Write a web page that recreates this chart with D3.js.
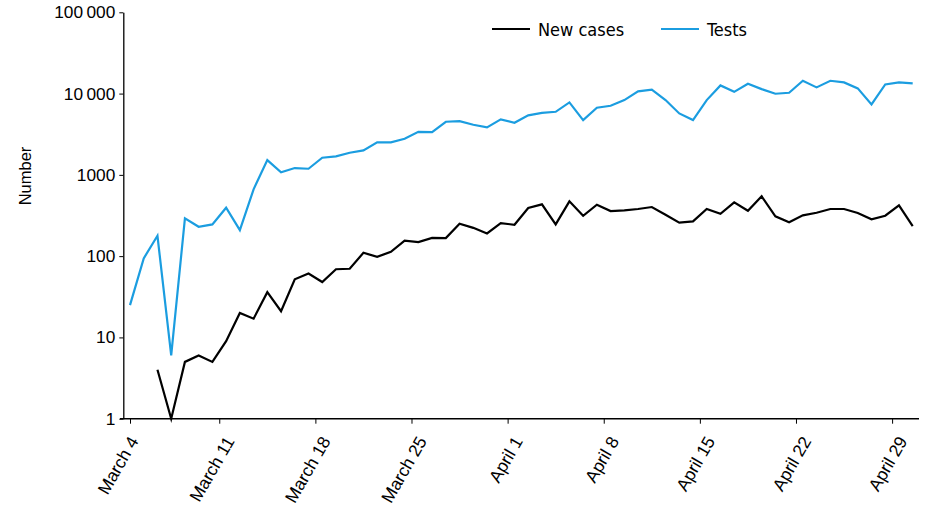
<!DOCTYPE html>
<html>
<head>
<meta charset="utf-8">
<script src="https://cdn.jsdelivr.net/npm/d3@7"></script>
<style>
  body { margin: 0; background: #fff; }
  svg { display: block; font-family: "Liberation Sans", Arial, sans-serif; }
</style>
</head>
<body>
<svg id="chart" width="951" height="532"></svg>
<script>
// days from March 4 to April 30
var dates = d3.timeDay.range(new Date(2020, 2, 4), new Date(2020, 4, 1));

var newCases = [null, null, 4, 1, 5, 6, 5, 9, 20, 17,
  36, 21, 52, 61, 48, 69, 70, 110, 98, 113,
  155, 149, 168, 167, 250, 223, 190, 255, 243, 391,
  434, 246, 472, 314, 429, 359, 366, 380, 402, 323,
  258, 268, 380, 332, 459, 362, 544, 309, 261, 318,
  342, 380, 380, 339, 284, 314, 422, 234];

var tests = [25, 94, 178, 6, 292, 230, 246, 394, 209, 664,
  1520, 1073, 1213, 1189, 1625, 1687, 1870, 2000, 2510, 2510,
  2780, 3380, 3360, 4500, 4590, 4130, 3840, 4820, 4370, 5400,
  5800, 5970, 7790, 4720, 6690, 7080, 8320, 10650, 11150, 8320,
  5700, 4720, 8320, 12600, 10500, 13200, 11350, 9950, 10230, 14380,
  11920, 14380, 13730, 11590, 7370, 12970, 13730, 13340];

var yTicks = [1, 10, 100, 1000, 10000, 100000];
var yTickLabels = ["1", "10", "100", "1000", "10\u2009000", "100\u2009000"];
var xLabelIdx = [0, 7, 14, 21, 28, 35, 42, 49, 56];
var xTickIdx = [0, 6.5, 13.5, 20.5, 27.5, 34.5, 41.5, 48.5, 55.5];
var fmtDay = d3.timeFormat("%B %-d");

var svg = d3.select("#chart");
var x = d3.scaleLinear().domain([0, dates.length - 1]).range([130, 912.7]);
var y = d3.scaleLog().domain([1, 100000]).range([418.7, 12.3]);

// y axis
var yAxis = d3.axisLeft(y)
  .tickValues(yTicks)
  .tickFormat(function (d, i) { return yTickLabels[i]; })
  .tickSize(4)
  .tickSizeOuter(0);
var gy = svg.append("g").attr("transform", "translate(123.3,0)").call(yAxis)
  .attr("font-family", "'Liberation Sans', Arial, sans-serif");
gy.select(".domain").attr("stroke-width", 1.3);
gy.selectAll("text").attr("font-size", 17.3).attr("fill", "#000").attr("x", -8);

// x axis line + ticks
svg.append("line")
  .attr("x1", 120).attr("x2", 919)
  .attr("y1", y(1)).attr("y2", y(1))
  .attr("stroke", "#000").attr("stroke-width", 1.5);
var xAxis = d3.axisBottom(x).tickValues(xTickIdx).tickFormat("").tickSize(5).tickSizeOuter(0);
var gx = svg.append("g").attr("transform", "translate(0," + y(1) + ")").call(xAxis);
gx.select(".domain").remove();

svg.selectAll(".xlab")
  .data(xLabelIdx)
  .enter().append("text")
  .attr("class", "xlab")
  .attr("text-anchor", "end")
  .attr("font-size", 17.5)
  .attr("transform", function (d) { return "translate(" + (x(d) + 9) + ",441) rotate(-60)"; })
  .text(function (d) { return fmtDay(dates[d]); });

svg.append("text")
  .attr("transform", "translate(31,176) rotate(-90)")
  .attr("text-anchor", "middle")
  .attr("font-size", 16.5)
  .text("Number");

// lines
var line = function (vals) {
  return d3.line()
    .defined(function (d) { return d != null; })
    .x(function (d, i) { return x(i); })
    .y(function (d) { return y(d); })(vals);
};
svg.append("path").attr("d", line(tests))
  .attr("fill", "none").attr("stroke", "#1b9de0").attr("stroke-width", 2.2)
  .attr("stroke-linejoin", "miter");
svg.append("path").attr("d", line(newCases))
  .attr("fill", "none").attr("stroke", "#000").attr("stroke-width", 2.2)
  .attr("stroke-linejoin", "miter");

// legend
var legend = [
  { name: "New cases", color: "#000", x: 492 },
  { name: "Tests", color: "#1b9de0", x: 661 }
];
var lg = svg.selectAll(".leg").data(legend).enter().append("g")
  .attr("transform", function (d) { return "translate(" + d.x + ",29)"; });
lg.append("line").attr("x1", 0).attr("x2", 38).attr("stroke", function (d) { return d.color; }).attr("stroke-width", 2.2);
lg.append("text").attr("x", 46).attr("y", 7)
  .attr("font-family", "'Liberation Sans Narrow', 'DejaVu Sans Condensed', sans-serif")
  .attr("font-size", 18)
  .text(function (d) { return d.name; });
</script>
</body>
</html>
